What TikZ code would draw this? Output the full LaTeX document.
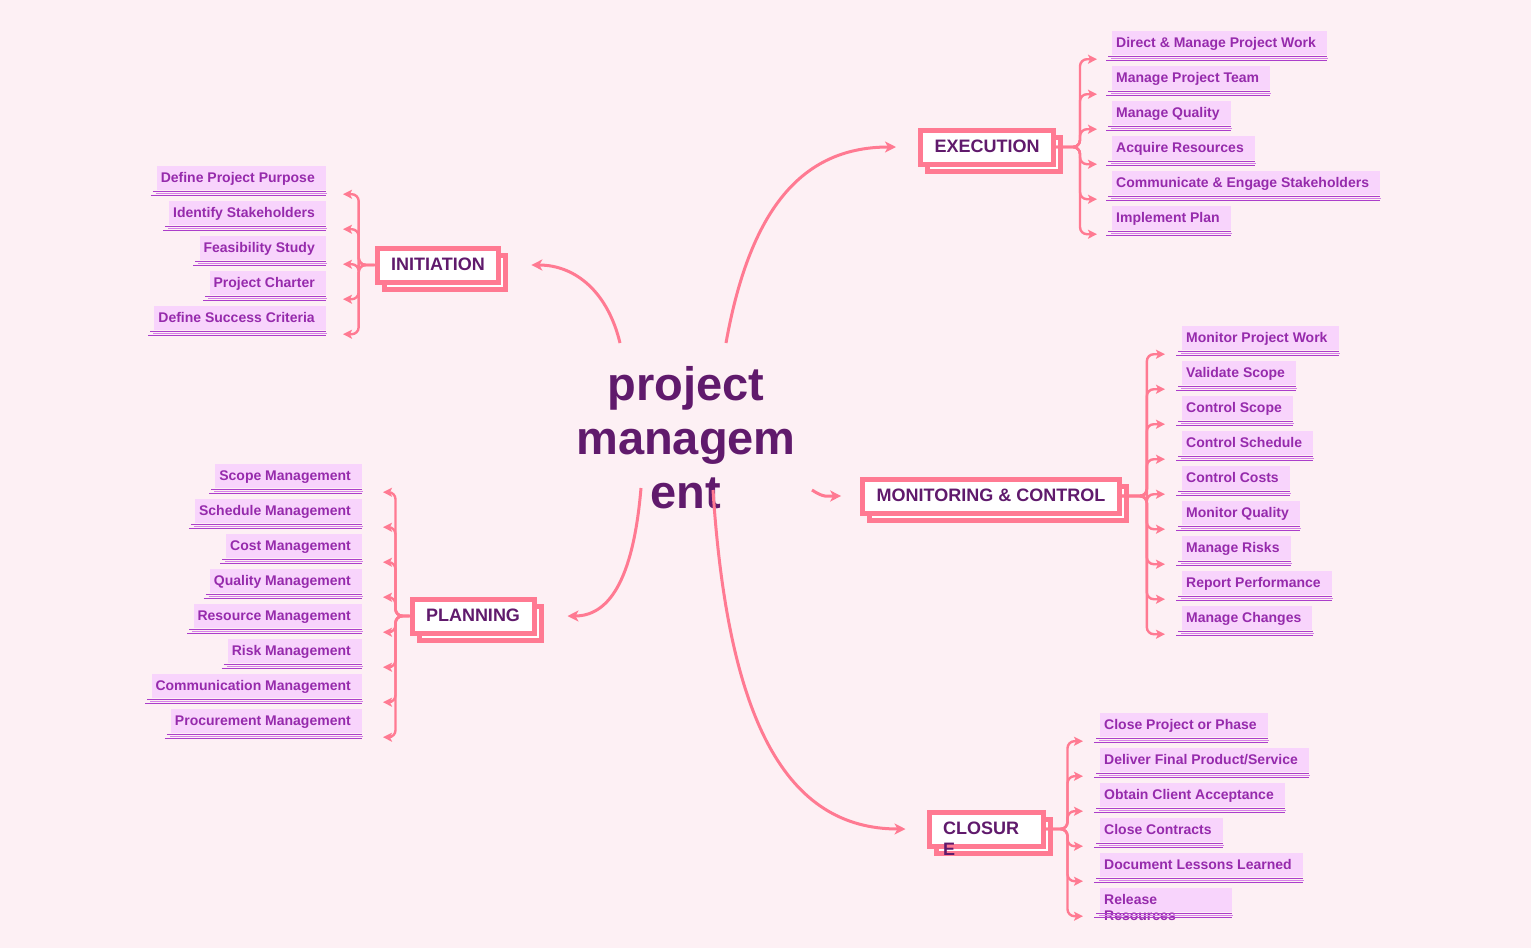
\documentclass[tikz,border=0pt]{standalone}
\usepackage{fontspec}
\setmainfont{Liberation Sans}
\usetikzlibrary{arrows.meta,shadows}

\definecolor{bgpink}{RGB}{253,240,244}
\definecolor{linepink}{RGB}{255,122,146}
\definecolor{topicpurple}{RGB}{96,26,108}
\definecolor{leafpurple}{RGB}{150,42,172}
\definecolor{leaffill}{RGB}{248,212,252}
\definecolor{ulinedark}{RGB}{172,62,202}
\definecolor{ulinelight}{RGB}{214,128,232}

\tikzset{
  centertopic/.style={text=topicpurple, font=\fontsize{47}{54}\selectfont\bfseries,
    align=center, inner sep=0pt},
  phasebox/.style={draw=linepink, line width=5pt, fill=white, text=topicpurple,
    font=\fontsize{18}{21}\selectfont\bfseries, inner xsep=14pt, minimum height=34pt,
    text height=13pt, text depth=3pt,
    copy shadow={shadow xshift=7pt, shadow yshift=-7pt, draw=linepink, fill=white, line width=5pt}},
  leafbox/.style={fill=leaffill, text=leafpurple, font=\fontsize{14}{16}\selectfont\bfseries,
    align=left, inner xsep=4pt, minimum height=24pt, text height=11pt, text depth=2pt,
    execute at end node={\hspace*{7pt}}},
  uline/.style={draw=ulinedark, line width=1pt},
  mainlink/.style={draw=linepink, line width=3pt, -{Stealth[length=11pt,width=11pt,inset=3pt]}},
  branchlink/.style={draw=linepink, line width=2.4pt, rounded corners=7pt,
    -{Stealth[length=9pt,width=9pt,inset=2pt]}}
}

% three sketchy underlines below a leaf
\newcommand\leafrule[1]{%
  \draw[uline] ([xshift=-4pt,yshift=-1.5pt]#1.south west) -- ([yshift=-1.5pt]#1.south east);
  \draw[uline,draw=ulinelight] ([xshift=-1pt,yshift=-3.5pt]#1.south west) -- ([xshift=1pt,yshift=-3.5pt]#1.south east);
  \draw[uline] ([xshift=-6pt,yshift=-5.5pt]#1.south west) -- ([yshift=-5.5pt]#1.south east);}

\begin{document}
\begin{tikzpicture}[x=1pt,y=-1pt]

  % Background
  \useasboundingbox (0,0) rectangle (1531,948);
  \fill[bgpink] (0,0) rectangle (1531,948);

  % Central topic
  \node[centertopic] (pm) at (686,438) {project\\managem\\ent};

  % Phases
  \node[phasebox] (ini) at (438,265) {INITIATION};
  \node[phasebox] (exe) at (987,147) {EXECUTION};
  \node[phasebox] (mon) at (991,496) {MONITORING \& CONTROL};
  \node[phasebox] (pln) at (473,616) {PLANNING};
  \node[phasebox,align=left,text width=86pt] (clo) at (986,829) {CLOSUR\\E};

  % Links from the central topic
  \draw[mainlink] ([shift={(-66,-95)}]pm.center) .. controls +(-12,-50) and +(45,0) .. ([xshift=30pt]ini.east);
  \draw[mainlink] ([shift={(40,-95)}]pm.center) .. controls +(25,-140) and +(-90,0) .. ([xshift=-22pt]exe.west);
  \draw[mainlink] ([shift={(126,52)}]pm.center) .. controls +(12,8) and +(-14,0) .. ([xshift=-19pt]mon.west);
  \draw[mainlink] ([shift={(-45,50)}]pm.center) .. controls +(-8,95) and +(40,0) .. ([xshift=31pt]pln.east);
  \draw[mainlink] ([shift={(27,52)}]pm.center) .. controls +(15,230) and +(-120,0) .. ([xshift=-21pt]clo.west);

  % Initiation
  \foreach \i/\yy/\txt in {1/178/Define Project Purpose, 2/213/Identify Stakeholders,
      3/248/Feasibility Study, 4/283/Project Charter, 5/318/Define Success Criteria}{
    \node[leafbox,anchor=east] (ini\i) at (326,\yy) {\txt};
    \leafrule{ini\i}
    \draw[branchlink] (ini.west) -- ++(-16,0) |- ([xshift=17pt,yshift=-4pt]ini\i.south east);
  }

  % Execution
  \foreach \i/\yy/\txt in {1/43/Direct \& Manage Project Work, 2/78/Manage Project Team,
      3/113/Manage Quality, 4/148/Acquire Resources,
      5/183/Communicate \& Engage Stakeholders, 6/218/Implement Plan}{
    \node[leafbox,anchor=west] (exe\i) at (1112,\yy) {\txt};
    \leafrule{exe\i}
    \draw[branchlink] (exe.east) -- ++(24,0) |- ([xshift=-15pt,yshift=-4pt]exe\i.south west);
  }

  % Monitoring & control
  \foreach \i/\yy/\txt in {1/338/Monitor Project Work, 2/373/Validate Scope,
      3/408/Control Scope, 4/443/Control Schedule, 5/478/Control Costs,
      6/513/Monitor Quality, 7/548/Manage Risks, 8/583/Report Performance,
      9/618/Manage Changes}{
    \node[leafbox,anchor=west] (mon\i) at (1182,\yy) {\txt};
    \leafrule{mon\i}
    \draw[branchlink] (mon.east) -- ++(25,0) |- ([xshift=-17pt,yshift=-4pt]mon\i.south west);
  }

  % Planning
  \foreach \i/\yy/\txt in {1/476/Scope Management, 2/511/Schedule Management,
      3/546/Cost Management, 4/581/Quality Management, 5/616/Resource Management,
      6/651/Risk Management, 7/686/Communication Management,
      8/721/Procurement Management}{
    \node[leafbox,anchor=east] (pln\i) at (362,\yy) {\txt};
    \leafrule{pln\i}
    \draw[branchlink] (pln.west) -- ++(-14,0) |- ([xshift=21pt,yshift=-4pt]pln\i.south east);
  }

  % Closure
  \foreach \i/\yy/\txt in {1/725/Close Project or Phase, 2/760/{Deliver Final Product/Service},
      3/795/Obtain Client Acceptance, 4/830/Close Contracts,
      5/865/Document Lessons Learned}{
    \node[leafbox,anchor=west] (clo\i) at (1100,\yy) {\txt};
    \leafrule{clo\i}
    \draw[branchlink] (clo.east) -- ++(22,0) |- ([xshift=-17pt,yshift=-4pt]clo\i.south west);
  }
  \node[leafbox,anchor=west,text width=124pt] (clo6) at (1100,900) {Release\\Resources};
  \leafrule{clo6}
  \draw[branchlink] (clo.east) -- ++(22,0) |- ([xshift=-17pt,yshift=-4pt]clo6.south west);

\end{tikzpicture}
\end{document}
